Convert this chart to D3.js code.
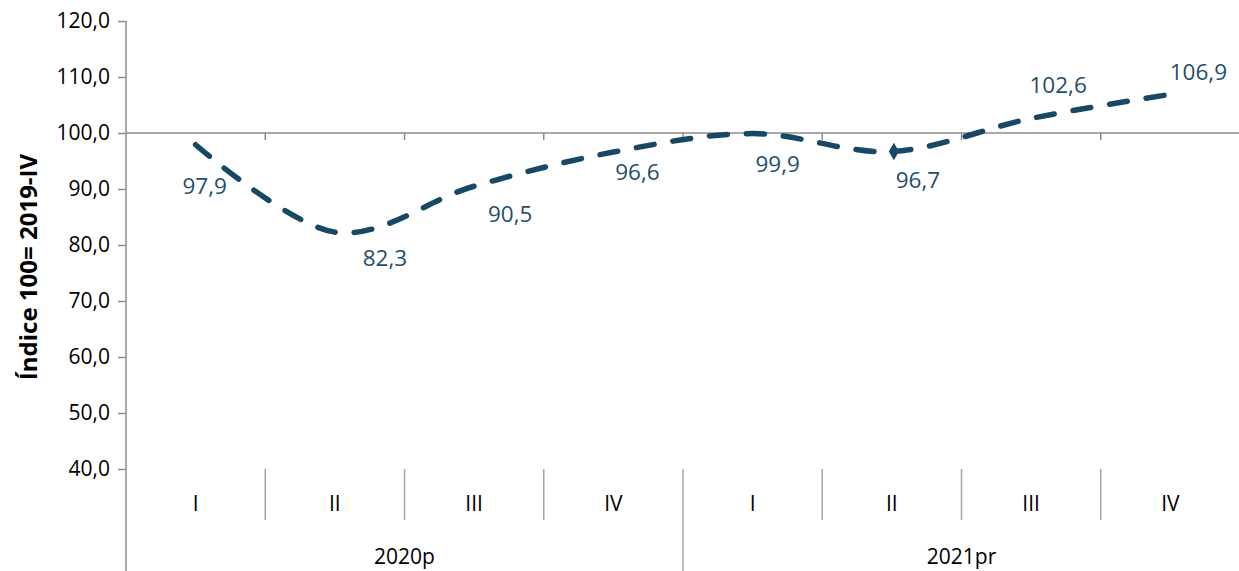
<!DOCTYPE html>
<html>
<head>
<meta charset="utf-8">
<script src="https://d3js.org/d3.v7.min.js"></script>
<style>
  body { margin: 0; background: #fff; }
  svg text { font-family: "Open Sans", "Noto Sans", sans-serif; }
</style>
</head>
<body>
<div id="canvas"></div>
<script>
  // Data
  var quarters = ["I", "II", "III", "IV", "I", "II", "III", "IV"];
  var years = ["2020p", "2021pr"];
  var values = [97.9, 82.3, 90.5, 96.6, 99.9, 96.7, 102.6, 106.9];
  var yTicks = [40, 50, 60, 70, 80, 90, 100, 110, 120];
  // label offsets from each point (dx, dy) in px
  var labelDx = [9, 50, 36, 24, 25, 26, 27, 28];
  var labelDy = [41, 26, 28, 20, 30, 29, -33, -22];

  var W = 1239, H = 571;
  var mLeft = 126, mRight = 1240, mTop = 21, mBottom = 469;
  var gray = "#8c8c8c", blue = "#174866";
  var ff = "'Open Sans', 'Noto Sans', sans-serif";

  var svg = d3.select("#canvas").append("svg")
    .attr("width", W).attr("height", H)
    .attr("font-family", ff);

  var x = d3.scaleBand().domain(d3.range(quarters.length)).range([mLeft, mRight]);
  var y = d3.scaleLinear().domain([40, 120]).range([mBottom, mTop]);
  var fmt = function(v) { return d3.format(".1f")(v).replace(".", ","); };

  // Y axis
  var yAxis = svg.append("g")
    .attr("transform", `translate(${mLeft},0)`)
    .call(d3.axisLeft(y).tickValues(yTicks).tickFormat(fmt).tickSize(8).tickPadding(8));
  yAxis.attr("font-family", ff);
  yAxis.select(".domain").remove();
  yAxis.selectAll("line").attr("stroke", gray).attr("stroke-width", 1.5);
  yAxis.selectAll("text").attr("font-size", 21).attr("fill", "#000");
  svg.append("line")
    .attr("x1", mLeft).attr("x2", mLeft).attr("y1", mTop).attr("y2", H)
    .attr("stroke", gray).attr("stroke-width", 1.5);

  // Horizontal axis crossing at 100
  svg.append("line")
    .attr("x1", mLeft).attr("x2", mRight).attr("y1", y(100)).attr("y2", y(100))
    .attr("stroke", gray).attr("stroke-width", 1.5);
  svg.append("g").selectAll("line")
    .data(d3.range(1, quarters.length))
    .enter().append("line")
      .attr("x1", function(i) { return x(i); })
      .attr("x2", function(i) { return x(i); })
      .attr("y1", y(100)).attr("y2", y(100) + 7)
      .attr("stroke", gray).attr("stroke-width", 1.5);

  // Category grid at bottom
  svg.append("g").selectAll("line")
    .data(d3.range(1, quarters.length))
    .enter().append("line")
      .attr("x1", function(i) { return x(i); })
      .attr("x2", function(i) { return x(i); })
      .attr("y1", mBottom)
      .attr("y2", function(i) { return i % 4 === 0 ? H : 520; })
      .attr("stroke", "#a6a6a6").attr("stroke-width", 1.5);

  svg.append("g").selectAll("text")
    .data(quarters)
    .enter().append("text")
      .attr("x", function(d, i) { return x(i) + x.bandwidth() / 2; })
      .attr("y", 511)
      .attr("text-anchor", "middle")
      .attr("font-size", 21)
      .text(function(d) { return d; });

  svg.append("g").selectAll("text")
    .data(years)
    .enter().append("text")
      .attr("x", function(d, i) { return x(i * 4) + x.bandwidth() * 2; })
      .attr("y", 564)
      .attr("text-anchor", "middle")
      .attr("font-size", 21)
      .text(function(d) { return d; });

  // Y title
  svg.append("text")
    .attr("transform", `translate(37,${(mTop + mBottom) / 2 + 22}) rotate(-90)`)
    .attr("text-anchor", "middle")
    .attr("font-size", 24)
    .attr("font-weight", "bold")
    .text("Índice 100= 2019-IV");

  // Line
  var line = d3.line()
    .x(function(d, i) { return x(i) + x.bandwidth() / 2; })
    .y(function(d) { return y(d); })
    .curve(d3.curveCardinal.tension(0));
  svg.append("path")
    .datum(values)
    .attr("d", line)
    .attr("fill", "none")
    .attr("stroke", blue)
    .attr("stroke-width", 5.5)
    .attr("stroke-linecap", "round")
    .attr("stroke-dasharray", "18,19");

  // Diamond marker at 2021 II
  svg.append("path")
    .attr("d", d3.symbol().type(d3.symbolDiamond).size(90))
    .attr("transform", `translate(${x(5) + x.bandwidth() / 2 + 2},${y(values[5])})`)
    .attr("fill", blue);

  // Labels
  svg.append("g").selectAll("text")
    .data(values)
    .enter().append("text")
      .attr("x", function(d, i) { return x(i) + x.bandwidth() / 2 + labelDx[i]; })
      .attr("y", function(d, i) { return y(d) + labelDy[i] + 8; })
      .attr("text-anchor", "middle")
      .attr("font-size", 22.5)
      .attr("fill", "#1f4e6b")
      .text(function(d) { return fmt(d); });
</script>
</body>
</html>
